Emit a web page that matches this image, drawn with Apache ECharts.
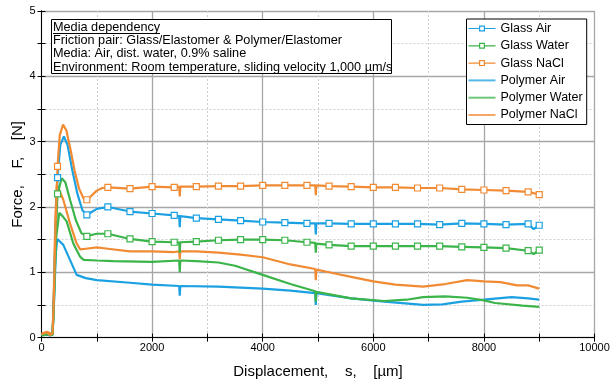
<!DOCTYPE html>
<html><head><meta charset="utf-8">
<script src="https://cdn.jsdelivr.net/npm/echarts@6/dist/echarts.min.js"></script>
<style>html,body{margin:0;padding:0;background:#fff}#c{width:614px;height:382px}</style>
</head><body><div id="c"></div>
<script>
const seriesNames = ['Glass Air','Glass Water','Glass NaCl','Polymer Air','Polymer Water','Polymer NaCl'];
const xTicks = [0,2000,4000,6000,8000,10000];
const yTicks = [0,1,2,3,4,5];
const markerX = [290,820,1200,1600,2000,2400,2800,3200,3600,4000,4400,4800,5200,5600,6000,6400,6800,7200,7600,8000,8400,8800,9000];

const glassAir = [[0,0.04],[100,0.06],[150,0.03],[200,0.05],[220,0.5],[250,1.5],[290,2.45],[340,2.95],[405,3.08],[470,2.95],[560,2.55],[650,2.2],[740,1.95],[820,1.88],[900,1.92],[1000,1.97],[1200,2.00],[1600,1.93],[2000,1.90],[2400,1.87],[2490,1.86],[2500,1.69],[2510,1.86],[2800,1.83],[3200,1.81],[3600,1.79],[4000,1.77],[4400,1.76],[4800,1.75],[4950,1.75],[4960,1.58],[4970,1.75],[5200,1.75],[5600,1.74],[6000,1.74],[6400,1.74],[6800,1.74],[7200,1.73],[7600,1.75],[8000,1.74],[8400,1.73],[8800,1.74],[8900,1.66],[9000,1.72]];
const glassWater = [[0,0.03],[100,0.05],[200,0.04],[220,0.4],[260,1.6],[290,2.2],[365,2.44],[430,2.38],[520,2.1],[620,1.8],[720,1.6],[820,1.55],[900,1.57],[1000,1.59],[1200,1.59],[1600,1.51],[2000,1.47],[2400,1.46],[2490,1.46],[2500,1.30],[2510,1.46],[2800,1.47],[3200,1.49],[3600,1.50],[4000,1.50],[4400,1.49],[4800,1.46],[4950,1.45],[4960,1.30],[4970,1.44],[5200,1.42],[5600,1.40],[6000,1.40],[6400,1.40],[6800,1.40],[7200,1.40],[7600,1.39],[8000,1.38],[8400,1.37],[8800,1.33],[8900,1.28],[9000,1.34]];
const glassNaCl = [[0,0.05],[100,0.08],[150,0.04],[200,0.06],[220,0.5],[250,1.6],[290,2.62],[330,3.1],[390,3.26],[450,3.17],[520,2.9],[600,2.55],[680,2.28],[760,2.13],[820,2.11],[900,2.17],[1000,2.25],[1100,2.29],[1200,2.30],[1600,2.28],[2000,2.31],[2400,2.30],[2490,2.31],[2500,2.16],[2510,2.31],[2800,2.31],[3200,2.32],[3600,2.32],[4000,2.33],[4400,2.33],[4800,2.33],[4950,2.33],[4960,2.18],[4970,2.33],[5200,2.32],[5600,2.31],[6000,2.30],[6400,2.30],[6800,2.29],[7200,2.29],[7600,2.27],[8000,2.26],[8400,2.25],[8800,2.23],[9000,2.19]];
const polymerAir = [[0,0.05],[100,0.04],[200,0.06],[220,0.4],[260,1.3],[286,1.51],[394,1.42],[515,1.19],[636,0.96],[800,0.91],[1000,0.88],[1600,0.84],[2000,0.81],[2490,0.79],[2500,0.64],[2510,0.79],[3200,0.78],[4000,0.75],[4500,0.72],[4950,0.68],[4960,0.50],[4970,0.68],[5600,0.60],[6200,0.55],[6900,0.50],[7250,0.51],[7600,0.55],[8000,0.58],[8500,0.62],[8800,0.60],[9000,0.58]];
const polymerWater = [[0,0.04],[100,0.07],[200,0.04],[220,0.5],[260,1.5],[322,1.91],[380,1.86],[455,1.78],[575,1.44],[696,1.24],[763,1.19],[1000,1.18],[1300,1.17],[2000,1.16],[2490,1.18],[2500,1.00],[2510,1.18],[2800,1.17],[3200,1.15],[3500,1.10],[4000,0.96],[4500,0.82],[4950,0.71],[4960,0.55],[4970,0.70],[5600,0.60],[6200,0.56],[6600,0.58],[6900,0.62],[7300,0.63],[7700,0.61],[8000,0.57],[8200,0.53],[8700,0.49],[9000,0.47]];
const polymerNaCl = [[0,0.06],[100,0.09],[200,0.05],[220,0.6],[250,1.8],[275,2.34],[300,2.30],[394,2.11],[515,1.75],[636,1.44],[700,1.35],[800,1.36],[1000,1.38],[1200,1.36],[1600,1.32],[2000,1.32],[2400,1.31],[2490,1.32],[2500,1.20],[2510,1.32],[2800,1.32],[3200,1.30],[3600,1.27],[4000,1.23],[4500,1.12],[4950,1.05],[4960,0.88],[4970,1.04],[5200,1.00],[5600,0.93],[6000,0.86],[6400,0.81],[6900,0.78],[7300,0.82],[7700,0.88],[8000,0.86],[8300,0.85],[8600,0.80],[8800,0.80],[9000,0.75]];

const infoLines = ['Media dependency','Friction pair: Glass/Elastomer & Polymer/Elastomer','Media: Air, dist. water, 0.9% saline','Environment: Room temperature, sliding velocity 1,000 µm/s'];

const BLUE='#1ba1e2', GREEN='#3bb44a', ORANGE='#f08b33';
const FONT='Liberation Sans, Arial, sans-serif';
const seriesColors = [BLUE, GREEN, ORANGE, BLUE, GREEN, ORANGE];

// legend icons drawn in a 27x10 box: line with hollow square, or line only
const ICON_MARK = 'path://M0,4.4L10.5,4.4L10.5,5.6L0,5.6Z M16.5,4.4L27,4.4L27,5.6L16.5,5.6Z M10.5,2L16.5,2L16.5,8L10.5,8Z M11.7,3.2L11.7,6.8L15.3,6.8L15.3,3.2Z';
const ICON_LINE = 'path://M0,4L27,4L27,6L0,6Z';

function glassSeries(name, data, color){
  return {name, type:'line', xAxisIndex:0, yAxisIndex:0, symbol:'rect', symbolSize:6, showAllSymbol:true,
    data: data.map(p => markerX.includes(p[0]) ? {value:p} : {value:p, symbol:'none'}),
    lineStyle:{color, width:2.2}, itemStyle:{color:'#fff', borderColor:color, borderWidth:1.2}, z:3};
}
function polySeries(name, data, color){
  return {name, type:'line', xAxisIndex:0, yAxisIndex:0, symbol:'none', showSymbol:false, data,
    lineStyle:{color, width:2.2}, itemStyle:{color}, z:2};
}

const chart = echarts.init(document.getElementById('c'), null, {renderer:'canvas'});
const axisCommon = {
  axisLine:{show:true, lineStyle:{color:'#000', width:1}},
  axisTick:{show:true, inside:true, length:4, lineStyle:{color:'#000'}},
  minorTick:{show:true, splitNumber:2, length:4, lineStyle:{color:'#000'}},
};
const option = {
  animation:false,
  textStyle:{fontFamily:FONT},
  grid:{left:41.5, right:19.5, top:11, bottom:44.4, containLabel:false, outerBoundsMode:'none'},
  xAxis:[{type:'value', min:xTicks[0], max:xTicks[xTicks.length-1], interval:2000, position:'bottom', ...axisCommon,
      axisLabel:{color:'#000', fontSize:11, margin:5, fontFamily:FONT, formatter:v=>String(v)},
      splitLine:{show:true, lineStyle:{color:'#a6a6a6', width:1.3}},
      minorSplitLine:{show:true, lineStyle:{color:'#cfcfcf', type:[2,2], width:1}},
      name:'Displacement,    s,    [µm]', nameLocation:'middle', nameGap:27, nameMoveOverlap:false,
      nameTextStyle:{color:'#000', fontSize:15, fontFamily:FONT}},
    {type:'value', min:xTicks[0], max:xTicks[xTicks.length-1], interval:2000, position:'top', ...axisCommon,
      axisLabel:{show:false}, splitLine:{show:false}}],
  yAxis:[{type:'value', min:yTicks[0], max:yTicks[yTicks.length-1], interval:1, position:'left', ...axisCommon,
      axisLabel:{color:'#000', fontSize:11, margin:6, fontFamily:FONT, formatter:v=>String(v)},
      splitLine:{show:true, lineStyle:{color:'#a6a6a6', width:1.3}},
      minorSplitLine:{show:true, lineStyle:{color:'#cfcfcf', type:[2,2], width:1}},
      name:'Force,    F,    [N]', nameLocation:'middle', nameGap:16, nameMoveOverlap:false,
      nameTextStyle:{color:'#000', fontSize:15, fontFamily:FONT}},
    {type:'value', min:yTicks[0], max:yTicks[yTicks.length-1], interval:1, position:'right', ...axisCommon,
      axisLabel:{show:false}, splitLine:{show:false}}],
  legend:{orient:'vertical', left:466.5, top:19,
    data: seriesNames.map((n,i)=>({name:n, icon: i<3 ? ICON_MARK : ICON_LINE, itemStyle:{color:seriesColors[i], borderWidth:0, opacity: i<3?1:0.75}})),
    backgroundColor:'#fff', borderColor:'#000', borderWidth:1, padding:[3,4,3,2],
    itemWidth:27, itemHeight:10, itemGap:4.3, textStyle:{color:'#000', fontSize:12.5, fontFamily:FONT}, z:10},
  graphic:[
    {type:'rect', z:20, shape:{x:51.5, y:19.5, width:340, height:54}, style:{fill:'#fff', stroke:'#000', lineWidth:1}},
    ...infoLines.map((t,i)=>({type:'text', z:21, x:53, y:20.5+i*13.4, style:{text:t, fill:'#000', font:'12.7px '+FONT}})),
    {type:'line', z:21, shape:{x1:53, y1:33.5, x2:160, y2:33.5}, style:{stroke:'#000', lineWidth:1}}
  ],
  series:[
    glassSeries(seriesNames[0], glassAir, BLUE),
    glassSeries(seriesNames[1], glassWater, GREEN),
    glassSeries(seriesNames[2], glassNaCl, ORANGE),
    polySeries(seriesNames[3], polymerAir, BLUE),
    polySeries(seriesNames[4], polymerWater, GREEN),
    polySeries(seriesNames[5], polymerNaCl, ORANGE)
  ]
};
chart.setOption(option);
</script></body></html>
